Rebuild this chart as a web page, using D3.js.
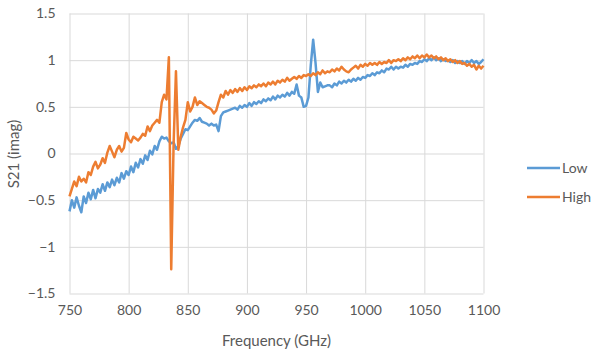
<!DOCTYPE html>
<html>
<head>
<meta charset="utf-8">
<script src="https://cdn.jsdelivr.net/npm/d3@7"></script>
<style>
  body { margin: 0; background: #fff; }
  text { font-family: Lato, "Open Sans", sans-serif; fill: #595959; }
</style>
</head>
<body>
<div id="chart"></div>
<script>
// frequency in GHz (2 GHz sweep)
const freq = [
  750, 752, 754, 756, 758, 760, 762, 764, 766, 768,
  770, 772, 774, 776, 778, 780, 782, 784, 786, 788,
  790, 792, 794, 796, 798, 800, 802, 804, 806, 808,
  810, 812, 814, 816, 818, 820, 822, 824, 826, 828,
  830, 832, 834, 836, 838, 840, 842, 844, 846, 848,
  850, 852, 854, 856, 858, 860, 862, 864, 866, 868,
  870, 872, 874, 876, 878, 880, 882, 884, 886, 888,
  890, 892, 894, 896, 898, 900, 902, 904, 906, 908,
  910, 912, 914, 916, 918, 920, 922, 924, 926, 928,
  930, 932, 934, 936, 938, 940, 942, 944, 946, 948,
  950, 952, 954, 956, 958, 960, 962, 964, 966, 968,
  970, 972, 974, 976, 978, 980, 982, 984, 986, 988,
  990, 992, 994, 996, 998, 1000, 1002, 1004, 1006, 1008,
  1010, 1012, 1014, 1016, 1018, 1020, 1022, 1024, 1026, 1028,
  1030, 1032, 1034, 1036, 1038, 1040, 1042, 1044, 1046, 1048,
  1050, 1052, 1054, 1056, 1058, 1060, 1062, 1064, 1066, 1068,
  1070, 1072, 1074, 1076, 1078, 1080, 1082, 1084, 1086, 1088,
  1090, 1092, 1094, 1096, 1098, 1100
];

const low = [
  -0.62, -0.50, -0.58, -0.47, -0.56, -0.63, -0.46, -0.53, -0.42, -0.49,
  -0.39, -0.48, -0.38, -0.42, -0.33, -0.40, -0.31, -0.36, -0.28, -0.34,
  -0.26, -0.31, -0.21, -0.27, -0.19, -0.23, -0.14, -0.20, -0.10, -0.15,
  -0.06, -0.11, -0.02, -0.07, 0.03, -0.01, 0.08, 0.04, 0.13, 0.18,
  0.16, 0.17, 0.13, 0.11, 0.12, 0.05, 0.08, 0.16, 0.21, 0.26,
  0.25, 0.29, 0.33, 0.36, 0.35, 0.38, 0.34, 0.33, 0.32, 0.30,
  0.32, 0.30, 0.31, 0.24, 0.40, 0.44, 0.45, 0.46, 0.47, 0.48,
  0.49, 0.47, 0.51, 0.49, 0.52, 0.50, 0.54, 0.51, 0.55, 0.53,
  0.56, 0.54, 0.58, 0.56, 0.59, 0.57, 0.61, 0.58, 0.62, 0.60,
  0.63, 0.61, 0.65, 0.62, 0.66, 0.64, 0.74, 0.62, 0.60, 0.50,
  0.51, 0.60, 0.95, 1.22, 0.97, 0.66, 0.76, 0.71, 0.72, 0.73,
  0.73, 0.71, 0.75, 0.73, 0.77, 0.75, 0.78, 0.76, 0.79, 0.77,
  0.80, 0.78, 0.81, 0.79, 0.82, 0.81, 0.84, 0.83, 0.86, 0.84,
  0.87, 0.86, 0.89, 0.87, 0.91, 0.90, 0.93, 0.90, 0.93, 0.91,
  0.93, 0.92, 0.95, 0.93, 0.96, 0.95, 0.97, 0.96, 0.99, 0.98,
  1.01, 0.99, 1.02, 1.00, 1.03, 1.00, 1.02, 0.99, 1.01, 0.99,
  1.00, 0.98, 1.00, 0.97, 0.99, 0.97, 0.99, 0.96, 0.99, 0.97,
  1.00, 0.97, 0.99, 0.96, 0.98, 1.01
];

const high = [
  -0.46, -0.38, -0.30, -0.35, -0.25, -0.30, -0.27, -0.31, -0.20, -0.23,
  -0.14, -0.09, -0.16, -0.12, -0.05, -0.10, 0.01, 0.08, 0.02, -0.04,
  0.04, 0.08, 0.02, 0.06, 0.22, 0.15, 0.12, 0.18, 0.16, 0.14,
  0.17, 0.21, 0.19, 0.29, 0.24, 0.30, 0.33, 0.36, 0.33, 0.55,
  0.63, 0.58, 1.03, -1.24, 0.10, 0.88, 0.04, 0.18, 0.28, 0.36,
  0.55, 0.45, 0.50, 0.60, 0.52, 0.56, 0.54, 0.52, 0.50, 0.49,
  0.47, 0.43, 0.46, 0.55, 0.63, 0.60, 0.67, 0.63, 0.68, 0.65,
  0.69, 0.66, 0.70, 0.67, 0.71, 0.68, 0.72, 0.70, 0.73, 0.71,
  0.74, 0.72, 0.75, 0.72, 0.76, 0.74, 0.77, 0.74, 0.78, 0.76,
  0.79, 0.77, 0.81, 0.78, 0.80, 0.82, 0.80, 0.83, 0.81, 0.84,
  0.83, 0.85, 0.83, 0.86, 0.84, 0.87, 0.85, 0.89, 0.86, 0.88,
  0.87, 0.90, 0.88, 0.91, 0.89, 0.93, 0.90, 0.88, 0.87, 0.90,
  0.92, 0.94, 0.91, 0.95, 0.93, 0.96, 0.94, 0.97, 0.95, 0.97,
  0.95, 0.98, 0.96, 0.98, 0.97, 1.00, 0.97, 1.00, 0.99, 1.01,
  0.99, 1.02, 1.00, 1.03, 1.01, 1.04, 1.02, 1.05, 1.02, 1.05,
  1.03, 1.06, 1.03, 1.05, 1.02, 1.04, 1.01, 1.03, 1.00, 1.02,
  0.99, 1.01, 0.98, 1.00, 0.97, 0.99, 0.96, 0.97, 0.94, 0.96,
  0.93, 0.95, 0.90, 0.94, 0.91, 0.94
];

const xTicks = [750, 800, 850, 900, 950, 1000, 1050, 1100];
const yTicks = [-1.5, -1, -0.5, 0, 0.5, 1, 1.5];
const seriesNames = ["Low", "High"];
const seriesColors = ["#5b9bd5", "#ed7d31"];

const W = 592, H = 352;
const plot = { left: 69.5, right: 483.5, top: 13.5, bottom: 293.5 };

const svg = d3.select("#chart")
  .append("svg")
  .attr("width", W)
  .attr("height", H);

const x = d3.scaleLinear().domain([750, 1100]).range([plot.left, plot.right]);
const y = d3.scaleLinear().domain([-1.5, 1.5]).range([plot.bottom, plot.top]);

// gridlines
svg.append("g")
  .attr("transform", `translate(0,${plot.bottom})`)
  .call(d3.axisBottom(x).tickValues(xTicks).tickSize(-(plot.bottom - plot.top)).tickFormat(""))
  .call((g) => g.select(".domain").remove())
  .call((g) => g.selectAll("line").attr("stroke", "#d9d9d9"));

svg.append("g")
  .attr("transform", `translate(${plot.left},0)`)
  .call(d3.axisLeft(y).tickValues(yTicks).tickSize(-(plot.right - plot.left)).tickFormat(""))
  .call((g) => g.select(".domain").remove())
  .call((g) => g.selectAll("line").attr("stroke", "#d9d9d9"));

// tick labels
svg.append("g")
  .attr("transform", `translate(0,${plot.bottom + 6})`)
  .call(d3.axisBottom(x).tickValues(xTicks).tickSize(0).tickPadding(6).tickFormat(d3.format("d")))
  .call((g) => g.select(".domain").remove())
  .call((g) => g.selectAll("text").style("font-size", "14px").attr("fill", "#595959"));

svg.append("g")
  .attr("transform", `translate(${plot.left - 14},0)`)
  .call(d3.axisLeft(y).tickValues(yTicks).tickSize(0).tickPadding(0).tickFormat(d3.format("")))
  .call((g) => g.select(".domain").remove())
  .call((g) => g.selectAll("text").style("font-size", "14px").attr("fill", "#595959"));

// axis titles
svg.append("text")
  .attr("x", (plot.left + plot.right) / 2)
  .attr("y", 346)
  .attr("text-anchor", "middle")
  .style("font-size", "15px")
  .text("Frequency (GHz)");

svg.append("text")
  .attr("transform", "translate(19,154) rotate(-90)")
  .attr("text-anchor", "middle")
  .style("font-size", "15px")
  .text("S21 (imag)");

// series lines
const line = (vals) => d3.line()
  .x((d, i) => x(freq[i]))
  .y((d) => y(d))(vals);

[low, high].forEach((vals, k) => {
  svg.append("path")
    .attr("d", line(vals))
    .attr("fill", "none")
    .attr("stroke", seriesColors[k])
    .attr("stroke-width", 2.5)
    .attr("stroke-linejoin", "round");
});

// legend
const legend = svg.append("g");
seriesNames.forEach((name, k) => {
  const ly = 168 + k * 29;
  legend.append("line")
    .attr("x1", 527).attr("x2", 560)
    .attr("y1", ly).attr("y2", ly)
    .attr("stroke", seriesColors[k])
    .attr("stroke-width", 2.5);
  legend.append("text")
    .attr("x", 562)
    .attr("y", ly + 5)
    .style("font-size", "14px")
    .text(name);
});
</script>
</body>
</html>
